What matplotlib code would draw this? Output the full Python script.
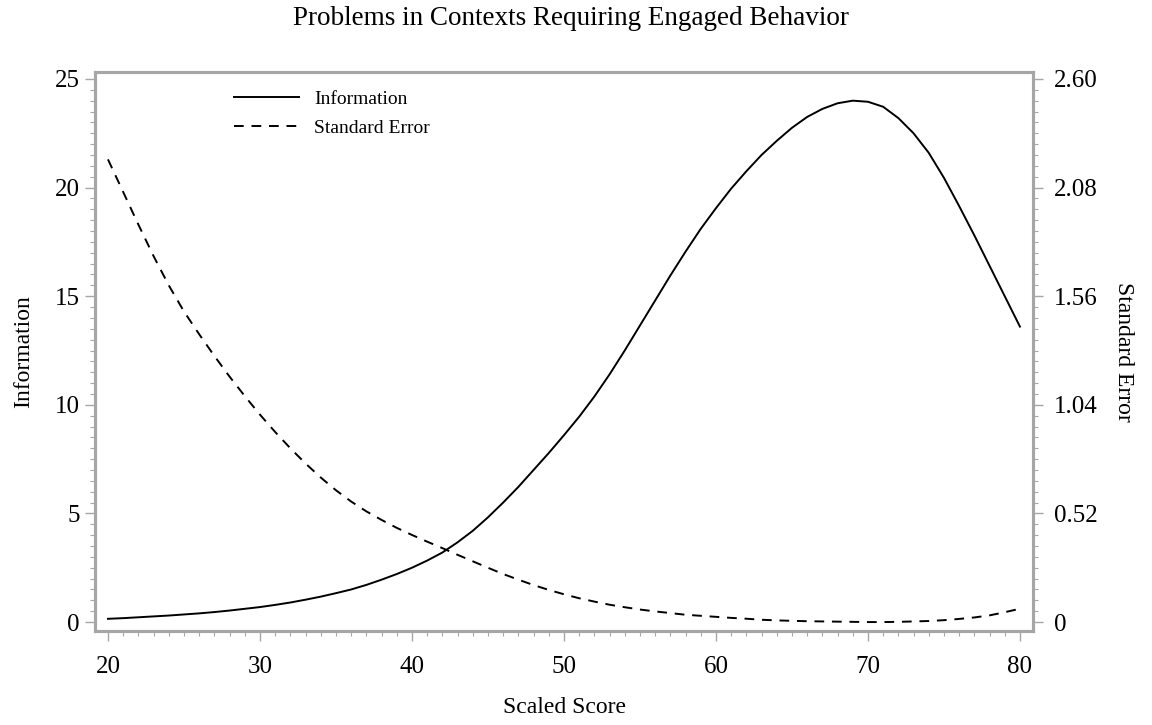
import matplotlib
matplotlib.use("Agg")
import matplotlib.pyplot as plt
from matplotlib.ticker import MultipleLocator, FixedLocator, FixedFormatter

plt.rcParams["font.family"] = ["Liberation Serif", "DejaVu Serif"]

# values
score = list(range(20, 81))
information = [0.15, 0.18, 0.22, 0.26, 0.30, 0.35, 0.40, 0.46, 0.53, 0.61,
               0.69, 0.79, 0.90, 1.03, 1.17, 1.33, 1.50, 1.71, 1.95, 2.21,
               2.50, 2.83, 3.20, 3.67, 4.20, 4.82, 5.50, 6.22, 7.00, 7.78,
               8.60, 9.45, 10.38, 11.40, 12.50, 13.65, 14.80, 15.95, 17.05, 18.10,
               19.05, 19.95, 20.75, 21.50, 22.15, 22.75, 23.25, 23.62, 23.88, 24.00,
               23.95, 23.72, 23.20, 22.50, 21.60, 20.45, 19.15, 17.80, 16.40, 15.00,
               13.60]
std_error = [2.215, 2.059, 1.903, 1.752, 1.612, 1.487, 1.378, 1.274, 1.175, 1.082,
             0.993, 0.910, 0.832, 0.759, 0.692, 0.631, 0.577, 0.530, 0.489, 0.451,
             0.417, 0.385, 0.354, 0.322, 0.291, 0.260, 0.230, 0.203, 0.177, 0.154,
             0.133, 0.114, 0.098, 0.083, 0.071, 0.060, 0.051, 0.043, 0.035, 0.030,
             0.025, 0.020, 0.016, 0.011, 0.008, 0.006, 0.004, 0.003, 0.002, 0.001,
             0.000, 0.000, 0.001, 0.003, 0.005, 0.009, 0.015, 0.022, 0.032, 0.047,
             0.064]

x_ticks = [20, 30, 40, 50, 60, 70, 80]
info_ticks = [0, 5, 10, 15, 20, 25]
se_ticks = [0, 0.52, 1.04, 1.56, 2.08, 2.60]
se_labels = ["0", "0.52", "1.04", "1.56", "2.08", "2.60"]

GRAY = "#a6a6a6"
TICK_FS = 18
LABEL_FS = 17

fig = plt.figure(figsize=(11.52, 7.25), dpi=100, facecolor="white")
ax = fig.add_axes([0.0825, 0.1297, 0.8142, 0.7710])
ax2 = ax.twinx()

l1, = ax.plot(score, information, color="black", lw=1.4, label="Information")
l2, = ax2.plot(score, std_error, color="black", lw=1.4, ls=(0, (5, 4)), label="Standard Error")

ax.set_xlim(19.15, 80.86)
ax.set_ylim(-0.41, 25.32)
# right axis shares the same frame: 25 on the left lines up with 2.60 on the right
ax2.set_ylim(-0.41 * 0.104, 25.32 * 0.104)

ax.xaxis.set_major_locator(FixedLocator(x_ticks))
ax.xaxis.set_minor_locator(MultipleLocator(1))
ax.yaxis.set_major_locator(FixedLocator(info_ticks))
ax.yaxis.set_minor_locator(MultipleLocator(0.5))
ax2.yaxis.set_major_locator(FixedLocator(se_ticks))
ax2.yaxis.set_major_formatter(FixedFormatter(se_labels))
ax2.yaxis.set_minor_locator(MultipleLocator(0.052))

for a in (ax, ax2):
    for sp in a.spines.values():
        sp.set_color(GRAY)
        sp.set_linewidth(2.2)
    a.tick_params(which="major", length=7, width=1.0, color=GRAY, labelsize=TICK_FS, pad=4)
    a.tick_params(which="minor", length=3.5, width=0.8, color=GRAY)
ax.tick_params(axis="x", which="major", pad=11)
ax2.tick_params(axis="y", which="major", pad=8)

ax.set_ylabel("Information", fontsize=LABEL_FS, labelpad=15)
ax2.set_ylabel("Standard Error", fontsize=LABEL_FS, rotation=270, labelpad=26)
ax.set_xlabel("Scaled Score", fontsize=LABEL_FS, labelpad=14)

fig.text(0.496, 0.974, "Problems in Contexts Requiring Engaged Behavior",
         ha="center", va="center", fontsize=19.5)

ax.legend(handles=[l1, l2], loc="upper left", bbox_to_anchor=(0.13, 0.998),
          frameon=False, fontsize=14, handlelength=3.3, handletextpad=0.8,
          labelspacing=0.55)

fig.savefig("out.png", dpi=100, facecolor="white")
